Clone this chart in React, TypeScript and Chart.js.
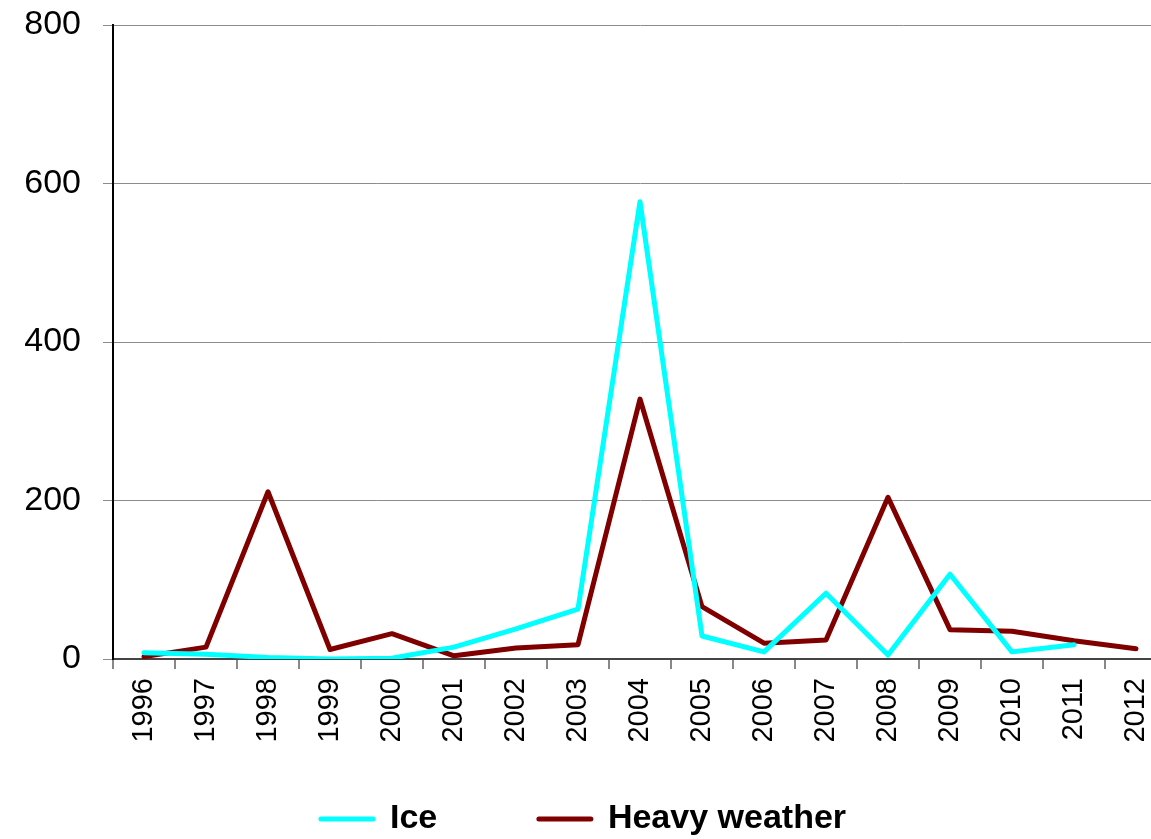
import React, { useEffect, useRef } from "react";
import { Chart, registerables } from "chart.js";

Chart.register(...registerables);

const years = ["1996","1997","1998","1999","2000","2001","2002","2003","2004","2005","2006","2007","2008","2009","2010","2011","2012"];
const iceValues: (number | null)[] = [8, 6, 2, 0, 1, 15, 38, 63, 577, 29, 9, 83, 5, 107, 9, 18, null];
const heavyWeatherValues: number[] = [3, 15, 211, 12, 32, 4, 14, 18, 328, 66, 20, 24, 204, 37, 35, 23, 13];
const yTicks = [0, 200, 400, 600, 800];
const seriesNames = ["Ice", "Heavy weather"];

const FONT = "'Liberation Sans', Arial, Helvetica, sans-serif";

export default function App() {
  const ref = useRef<HTMLCanvasElement | null>(null);
  useEffect(() => {
    if (!ref.current) return;
    const chart = new Chart(ref.current, {
      type: "line",
      data: {
        labels: years,
        datasets: [
          {
            label: seriesNames[0],
            data: iceValues,
            borderColor: "#00FFFF",
            backgroundColor: "#00FFFF",
            borderWidth: 5,
            pointRadius: 0,
            borderCapStyle: "round",
            borderJoinStyle: "round",
            tension: 0,
          },
          {
            label: seriesNames[1],
            data: heavyWeatherValues,
            borderColor: "#800000",
            backgroundColor: "#800000",
            borderWidth: 5,
            pointRadius: 0,
            borderCapStyle: "round",
            borderJoinStyle: "round",
            tension: 0,
          },
        ],
      },
      options: {
        responsive: false,
        animation: false,
        layout: { padding: { top: 25, left: 0, right: 0, bottom: -7 } },
        plugins: {
          tooltip: { enabled: false },
          legend: {
            position: "bottom",
            labels: {
              usePointStyle: true,
              pointStyle: "line",
              pointStyleWidth: 52,
              padding: 45,
              color: "#000",
              font: { family: FONT, size: 34, weight: "bold" },
              generateLabels: (c: any) => {
                const items = Chart.defaults.plugins.legend.labels.generateLabels(c);
                return items.map((it: any, i: number) => ({
                  ...it,
                  text: i === 0 ? it.text + "      " : it.text,
                  pointStyle: "line",
                  lineWidth: 5,
                  lineCap: "round",
                }));
              },
            },
          },
        },
        scales: {
          x: {
            type: "category",
            offset: true,
            grid: {
              drawOnChartArea: false,
              offset: true,
              tickLength: 10,
              color: "#888",
              lineWidth: 2,
            },
            border: { color: "#444", width: 2 },
            ticks: {
              autoSkip: false,
              minRotation: 90,
              maxRotation: 90,
              padding: 9,
              color: "#000",
              font: { family: FONT, size: 29 },
            },
            afterFit: (scale: any) => {
              scale.height = 98;
              scale.paddingLeft = 0;
              scale.paddingRight = 0;
            },
          },
          y: {
            min: 0,
            max: 800,
            afterBuildTicks: (scale: any) => {
              scale.ticks = yTicks.map((v) => ({ value: v }));
            },
            grid: {
              color: "#8c8c8c",
              lineWidth: 1,
              tickLength: 10,
            },
            border: { color: "#000", width: 2 },
            ticks: {
              padding: 22,
              color: "#000",
              font: { family: FONT, size: 34 },
            },
            afterFit: (scale: any) => {
              scale.width = 113;
              scale.paddingTop = 0;
              scale.paddingBottom = 0;
            },
          },
        },
      },
    });
    return () => chart.destroy();
  }, []);
  return (
    <div style={{ position: "fixed", left: 0, top: 0, width: 1151, height: 839, background: "#fff", overflow: "hidden" }}>
      <canvas ref={ref} width={1167} height={839} style={{ display: "block" }} />
    </div>
  );
}
